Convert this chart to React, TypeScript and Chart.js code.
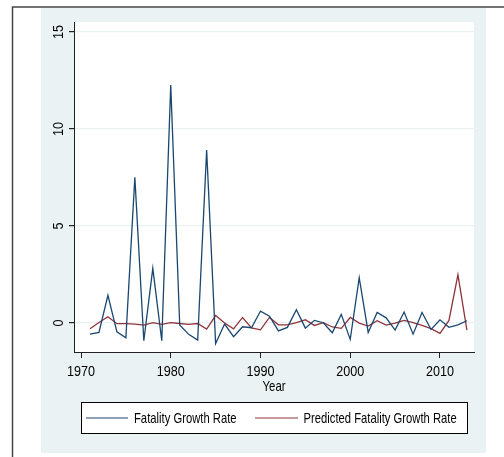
import React, { useEffect, useRef } from "react";
import { Chart, registerables } from "chart.js";

Chart.register(...registerables);

const years = [
  1971, 1972, 1973, 1974, 1975, 1976, 1977, 1978, 1979, 1980,
  1981, 1982, 1983, 1984, 1985, 1986, 1987, 1988, 1989, 1990,
  1991, 1992, 1993, 1994, 1995, 1996, 1997, 1998, 1999, 2000,
  2001, 2002, 2003, 2004, 2005, 2006, 2007, 2008, 2009, 2010,
  2011, 2012, 2013,
];

const fatalityGrowth = [
  -0.57, -0.48, 1.43, -0.45, -0.76, 7.51, -0.91, 2.82, -0.91, 12.27,
  -0.1, -0.58, -0.88, 8.92, -1.05, -0.05, -0.7, -0.19, -0.24, 0.62,
  0.36, -0.4, -0.22, 0.69, -0.26, 0.14, 0.02, -0.5, 0.45, -0.84,
  2.34, -0.48, 0.55, 0.27, -0.36, 0.57, -0.57, 0.55, -0.33, 0.17,
  -0.22, -0.09, 0.12,
];

const predictedGrowth = [
  -0.29, 0.03, 0.33, -0.03, -0.03, -0.05, -0.1, 0.02, -0.07, 0.02,
  -0.02, -0.07, -0.02, -0.31, 0.39, 0.0, -0.3, 0.29, -0.25, -0.35,
  0.29, -0.09, -0.09, 0.03, 0.17, -0.12, 0.02, -0.2, -0.27, 0.29,
  0.0, -0.15, 0.12, -0.1, 0.0, 0.14, 0.02, -0.12, -0.29, -0.53,
  0.14, 2.49, -0.36,
];

const xTicks = [1970, 1980, 1990, 2000, 2010];
const yTicks = [0, 5, 10, 15];
const xTitle = "Year";

const seriesLabels = ["Fatality Growth Rate", "Predicted Fatality Growth Rate"];
const seriesColors = ["#1a476f", "#90353b"];

const FONT = "'Liberation Sans', Arial, sans-serif";

function narrowText(ctx: CanvasRenderingContext2D, text: string, x: number, y: number, align: CanvasTextAlign, squeeze: number, rotate = 0) {
  ctx.save();
  ctx.translate(x, y);
  if (rotate) ctx.rotate(rotate);
  ctx.scale(squeeze, 1);
  ctx.textAlign = align;
  ctx.textBaseline = "alphabetic";
  ctx.fillText(text, 0, 0);
  ctx.restore();
}

const framePlugin = {
  id: "stataFrame",
  beforeDraw(chart: any) {
    const { ctx, chartArea } = chart;
    ctx.save();
    ctx.fillStyle = "#ffffff";
    ctx.fillRect(0, 0, chart.width, chart.height);
    ctx.strokeStyle = "#444444";
    ctx.lineWidth = 1.5;
    ctx.beginPath();
    ctx.moveTo(12.5, 457);
    ctx.lineTo(12.5, 7);
    ctx.lineTo(504, 7);
    ctx.stroke();
    ctx.fillStyle = "#eaf2f3";
    ctx.fillRect(41, 8, 445, 445);
    ctx.fillStyle = "#ffffff";
    ctx.fillRect(chartArea.left, chartArea.top, chartArea.right - chartArea.left, chartArea.bottom - chartArea.top);
    ctx.restore();
  },
  afterDraw(chart: any) {
    const { ctx, chartArea } = chart;
    const xs = chart.scales.x;
    const ys = chart.scales.y;
    ctx.save();
    ctx.fillStyle = "#000000";
    ctx.font = `15px ${FONT}`;
    xTicks.forEach((v) => {
      narrowText(ctx, String(v), xs.getPixelForValue(v), 376, "center", 0.84);
    });
    narrowText(ctx, xTitle, (chartArea.left + chartArea.right) / 2, 390.5, "center", 0.76);
    yTicks.forEach((v) => {
      narrowText(ctx, String(v), 62.5, ys.getPixelForValue(v), "center", 0.84, -Math.PI / 2);
    });

    const lx = 81, ly = 402, lw = 386, lh = 31;
    ctx.fillStyle = "#ffffff";
    ctx.fillRect(lx, ly, lw, lh);
    ctx.strokeStyle = "#000000";
    ctx.lineWidth = 1;
    ctx.strokeRect(lx + 0.5, ly + 0.5, lw, lh);
    const items = [
      { x0: 86, x1: 128, tx: 134 },
      { x0: 255, x1: 298, tx: 303.5 },
    ];
    items.forEach((it, i) => {
      const ds = chart.data.datasets[i];
      ctx.strokeStyle = ds.borderColor;
      ctx.lineWidth = 1.2;
      ctx.beginPath();
      ctx.moveTo(it.x0, 418);
      ctx.lineTo(it.x1, 418);
      ctx.stroke();
      ctx.fillStyle = "#000000";
      narrowText(ctx, ds.label, it.tx, 423.3, "left", 0.75);
    });
    ctx.restore();
  },
};

export default function App() {
  const canvasRef = useRef<HTMLCanvasElement | null>(null);

  useEffect(() => {
    if (!canvasRef.current) return;
    const chart = new Chart(canvasRef.current, {
      type: "line",
      data: {
        datasets: [
          {
            label: seriesLabels[0],
            data: years.map((y, i) => ({ x: y, y: fatalityGrowth[i] })),
            borderColor: seriesColors[0],
            borderWidth: 1.3,
            pointRadius: 0,
            tension: 0,
          },
          {
            label: seriesLabels[1],
            data: years.map((y, i) => ({ x: y, y: predictedGrowth[i] })),
            borderColor: seriesColors[1],
            borderWidth: 1.3,
            pointRadius: 0,
            tension: 0,
          },
        ],
      },
      options: {
        animation: false,
        responsive: false,
        maintainAspectRatio: false,
        layout: { padding: { left: 0, right: 30, top: 22, bottom: 0 } },
        plugins: {
          legend: { display: false },
          tooltip: { enabled: false },
        },
        scales: {
          x: {
            type: "linear",
            min: 1969.22,
            max: 2013.79,
            afterBuildTicks: (scale: any) => {
              scale.ticks = xTicks.map((v) => ({ value: v }));
            },
            afterFit: (scale: any) => {
              scale.height = 105;
            },
            ticks: { display: false },
            grid: {
              drawOnChartArea: false,
              tickLength: 6,
              tickColor: "#222222",
              color: "#222222",
            },
            border: { color: "#222222", width: 1 },
          },
          y: {
            type: "linear",
            min: -1.49,
            max: 15.52,
            afterBuildTicks: (scale: any) => {
              scale.ticks = yTicks.map((v) => ({ value: v }));
            },
            afterFit: (scale: any) => {
              scale.width = 74;
            },
            ticks: { display: false },
            grid: {
              color: "#eaf2f3",
              lineWidth: 1.2,
              tickLength: 5,
              tickColor: "#222222",
            },
            border: { color: "#222222", width: 1 },
          },
        },
      },
      plugins: [framePlugin],
    });
    return () => chart.destroy();
  }, []);

  return (
    <div style={{ position: "absolute", left: 0, top: 0, width: 504, height: 457 }}>
      <canvas ref={canvasRef} width={504} height={457} style={{ width: 504, height: 457, display: "block" }} />
    </div>
  );
}
